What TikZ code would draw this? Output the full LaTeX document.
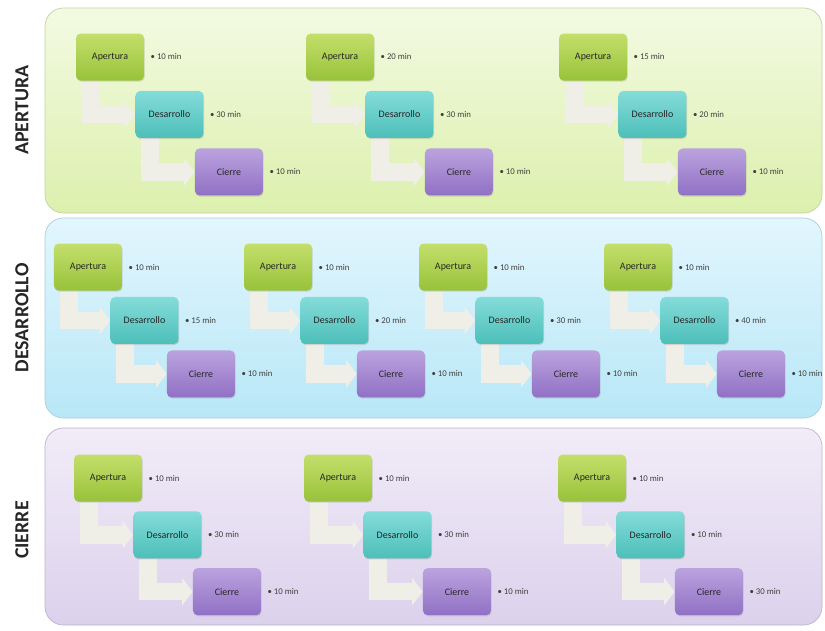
\documentclass[tikz,border=0pt]{standalone}
\usepackage{fontspec}
\setmainfont{Carlito}
\usetikzlibrary{arrows.meta, positioning, calc, shadows}

\definecolor{apTop}{HTML}{C3DF6B}
\definecolor{apBot}{HTML}{98C23A}
\definecolor{deTop}{HTML}{84DCD9}
\definecolor{deBot}{HTML}{4DBFB9}
\definecolor{ciTop}{HTML}{BBA3DE}
\definecolor{ciBot}{HTML}{9070C5}
\definecolor{panGreenTop}{HTML}{F3FAE2}
\definecolor{panGreenBot}{HTML}{DCF0AD}
\definecolor{panGreenLine}{HTML}{C2D3A0}
\definecolor{panBlueTop}{HTML}{E2F6FD}
\definecolor{panBlueBot}{HTML}{B8E7F7}
\definecolor{panBlueLine}{HTML}{A6CFDC}
\definecolor{panLilaTop}{HTML}{F1ECF8}
\definecolor{panLilaBot}{HTML}{DCD1EC}
\definecolor{panLilaLine}{HTML}{BDB2CF}
\definecolor{linkGray}{HTML}{EFEFE8}

\pgfdeclarelayer{back}
\pgfdeclarelayer{link}
\pgfsetlayers{back,link,main}

\begin{document}
\begin{tikzpicture}[x=0.03cm, y=-0.03cm, >=Stealth]
    \tikzstyle{phase} = [rounded corners=0.55cm, line width=0.6pt]
    \tikzstyle{tag} = [rotate=90, font=\fontsize{17}{20}\selectfont\bfseries, text=black!85]
    \tikzstyle{box} = [rectangle, rounded corners=4pt, minimum width=2.04cm, minimum height=1.41cm, font=\fontsize{8.5}{10}\selectfont, text=black!85, drop shadow={opacity=.25, shadow xshift=.6pt, shadow yshift=-1pt}]
    \tikzstyle{apbox} = [box, top color=apTop, bottom color=apBot]
    \tikzstyle{debox} = [box, top color=deTop, bottom color=deBot]
    \tikzstyle{cibox} = [box, top color=ciTop, bottom color=ciBot]
    \tikzstyle{mins} = [font=\fontsize{7.5}{9}\selectfont, text=black!75, inner sep=1pt]
    \tikzstyle{turnarrow} = [line width=15pt, draw=linkGray, -{Triangle[width=23pt,length=9pt]}]

    \useasboundingbox (0,0) rectangle (825,630);

    % Phase panels
    \begin{pgfonlayer}{back}
    \draw [phase, draw=panGreenLine, top color=panGreenTop, bottom color=panGreenBot] (45,8) rectangle (822,213);
    \draw [phase, draw=panBlueLine, top color=panBlueTop, bottom color=panBlueBot] (45,218) rectangle (822,418);
    \draw [phase, draw=panLilaLine, top color=panLilaTop, bottom color=panLilaBot] (45,428) rectangle (822,625);
    \end{pgfonlayer}

    \node [tag] (tagAp) at (22,110) {APERTURA};
    \node [tag] (tagDe) at (22,318) {DESARROLLO};
    \node [tag] (tagCi) at (22,530) {CIERRE};

    % Sessions
    \foreach \n/\x/\y/\h/\v/\ta/\td/\tc in {
        a1/110/57/-0.27cm/0.3cm/10/30/10, a2/340/57/-0.27cm/0.3cm/20/30/10, a3/593/57/-0.27cm/0.3cm/15/20/10,
        b1/88/267/-0.36cm/0.18cm/10/15/10, b2/278/267/-0.36cm/0.18cm/10/20/10,
        b3/453/267/-0.36cm/0.18cm/10/30/10, b4/638/267/-0.36cm/0.18cm/10/40/10,
        c1/108/478/-0.27cm/0.28cm/10/30/10, c2/338/478/-0.27cm/0.28cm/10/30/10, c3/592/478/-0.3cm/0.28cm/10/10/30} {
        \node [apbox] (ap\n) at (\x,\y) {Apertura};
        \node [debox, below right=\v and \h of ap\n] (de\n) {Desarrollo};
        \node [cibox, below right=\v and \h of de\n] (ci\n) {Cierre};
        \node [mins, right=0.15cm of ap\n] (tap\n) {• \ta{} min};
        \node [mins, right=0.15cm of de\n] (tde\n) {• \td{} min};
        \node [mins, right=0.15cm of ci\n] (tci\n) {• \tc{} min};
        \begin{pgfonlayer}{link}
        \draw [turnarrow] ($(ap\n.south west)+(0.45cm,0)$) |- (de\n.west);
        \draw [turnarrow] ($(de\n.south west)+(0.45cm,0)$) |- (ci\n.west);
        \end{pgfonlayer}
    }
\end{tikzpicture}
\end{document}
